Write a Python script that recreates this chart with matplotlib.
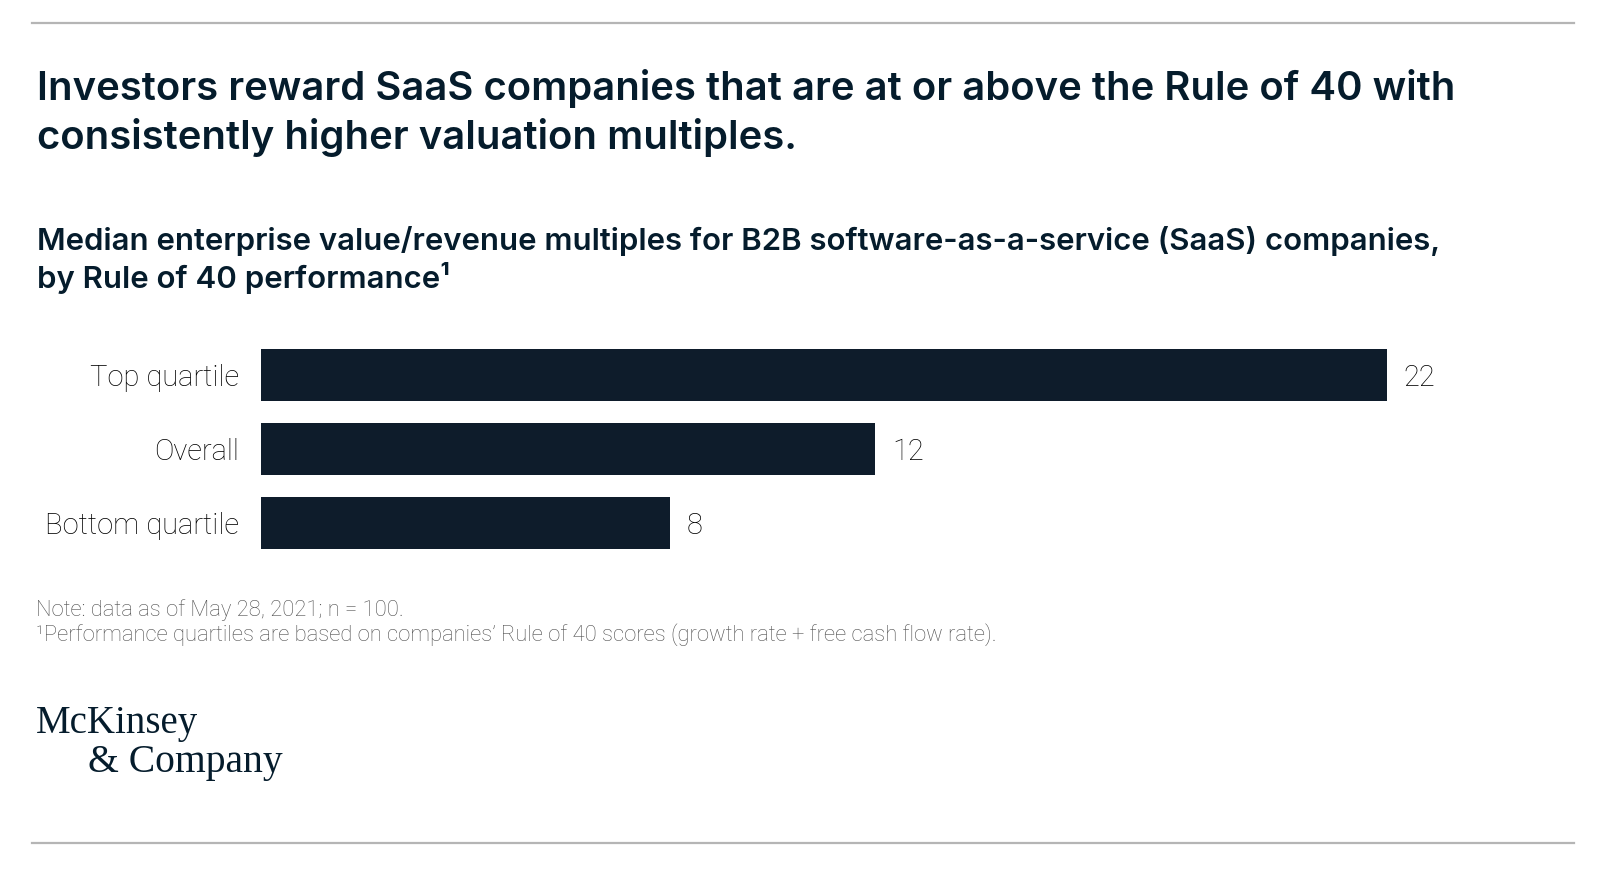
import matplotlib
matplotlib.use("Agg")
import matplotlib.pyplot as plt
from matplotlib.lines import Line2D

# data
categories = ["Top quartile", "Overall", "Bottom quartile"]
values = [22, 12, 8]

title_lines = ["Investors reward SaaS companies that are at or above the Rule of 40 with",
               "consistently higher valuation multiples."]
subtitle_lines = ["Median enterprise value/revenue multiples for B2B software-as-a-service (SaaS) companies,",
                  "by Rule of 40 performance\u00b9"]
note_lines = ["Note: data as of May 28, 2021; n = 100.",
              "\u00b9Performance quartiles are based on companies\u2019 Rule of 40 scores (growth rate + free cash flow rate)."]

W, H = 1600, 875
NAVY = "#0e1c2b"
TEXT = "#051c2c"


def fx(px):
    return px / W


def fy(py):
    return 1 - py / H


fig = plt.figure(figsize=(W / 100, H / 100), dpi=100)
fig.patch.set_facecolor("white")

# thin rules at top and bottom
for y in (23, 843):
    fig.add_artist(Line2D([fx(32), fx(1574)], [fy(y), fy(y)], color="#b5b5b5", lw=1.6))

# headline
for i, line in enumerate(title_lines):
    fig.text(fx(37), fy(100 + i * 49), line, fontsize=28.8, fontfamily="Inter",
             fontweight="semibold", color=TEXT, va="baseline", ha="left")

# chart subtitle
for i, line in enumerate(subtitle_lines):
    fig.text(fx(37), fy(250 + i * 38), line, fontsize=22.4, fontfamily="Inter",
             fontweight="semibold", color=TEXT, va="baseline", ha="left")

# bar chart
ax = fig.add_axes([fx(261), fy(560), fx(1387) - fx(261), fy(338) - fy(560)])
ypos = list(range(len(categories)))
ax.barh(ypos, values, height=0.7, color=NAVY)
ax.set_xlim(0, 22)
ax.set_ylim(len(categories) - 0.5, -0.5)
ax.set_yticks(ypos)
ax.set_yticklabels(categories, fontsize=21, fontfamily="Roboto", fontweight="light", color="#000000")
ax.tick_params(axis="y", length=0, pad=15.5)
ax.set_xticks([])
for s in ax.spines.values():
    s.set_visible(False)
ax.patch.set_alpha(0)

for y, v in zip(ypos, values):
    ax.annotate(str(v), xy=(v, y), xytext=(12, 0), textcoords="offset points",
                va="center_baseline", ha="left", fontsize=21, fontfamily="Roboto",
                fontweight="light", color="#000000", annotation_clip=False)

# notes
for i, line in enumerate(note_lines):
    fig.text(fx(36), fy(616 + i * 25), line, fontsize=15.8, fontfamily="Roboto",
             fontweight="light", color="#4f4f4f", va="baseline", ha="left")

# logo
fig.text(fx(36), fy(733), "McKinsey", fontsize=28, fontfamily="Liberation Serif",
         color=TEXT, va="baseline", ha="left")
fig.text(fx(88), fy(772), "& Company", fontsize=28.5, fontfamily="Liberation Serif",
         color=TEXT, va="baseline", ha="left")

fig.savefig("out.png", dpi=100)
